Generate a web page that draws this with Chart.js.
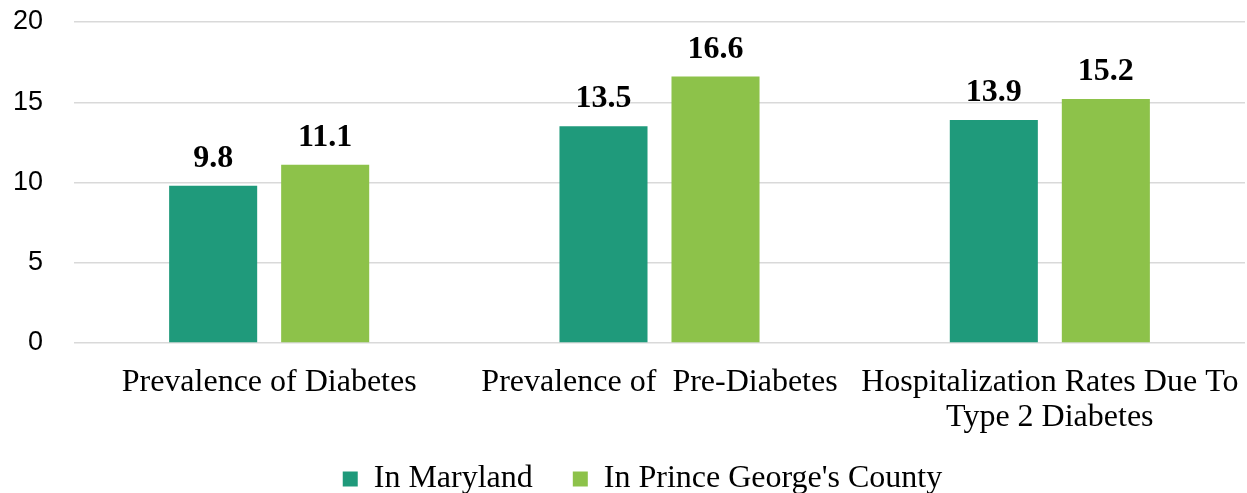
<!DOCTYPE html>
<html>
<head>
<meta charset="utf-8">
<script src="https://cdn.jsdelivr.net/npm/chart.js@4/dist/chart.umd.min.js"></script>
<style>
  html, body { margin: 0; padding: 0; background: #fff; }
  #wrap { width: 1247px; height: 493px; position: relative; }
</style>
</head>
<body>
<div id="wrap"><canvas id="c"></canvas></div>
<script>
const categories = [
  'Prevalence of Diabetes',
  ['Prevalence of  Pre-Diabetes'],
  ['Hospitalization Rates Due To', 'Type 2 Diabetes']
];
const seriesNames = ['In Maryland', "In Prince George's County"];
const marylandValues = [9.8, 13.5, 13.9];
const princeGeorgesValues = [11.1, 16.6, 15.2];
const yTicks = [0, 5, 10, 15, 20];

const serif = '"Liberation Serif", "Times New Roman", serif';
const sans = '"Liberation Sans", Arial, sans-serif';

const legendFont = 32;
const legendPad = 40;
const legendShift = 20;

// Writes each bar's value above it in bold
const valueLabels = {
  id: 'valueLabels',
  afterDatasetsDraw(chart) {
    const ctx = chart.ctx;
    ctx.save();
    ctx.font = 'bold 32px ' + serif;
    ctx.fillStyle = '#000';
    ctx.textAlign = 'center';
    ctx.textBaseline = 'alphabetic';
    chart.data.datasets.forEach((ds, i) => {
      chart.getDatasetMeta(i).data.forEach((bar, j) => {
        ctx.fillText(ds.data[j].toFixed(1), bar.x, bar.y - 19);
      });
    });
    ctx.restore();
  }
};

// Nudges the legend row slightly to the right of centre
const legendOffset = {
  id: 'legendOffset',
  afterLayout(chart) {
    if (chart.legend) {
      chart.legend.left += legendShift;
      chart.legend.right += legendShift;
    }
  }
};

new Chart(document.getElementById('c'), {
  type: 'bar',
  data: {
    labels: categories,
    datasets: [
      { label: seriesNames[0], data: marylandValues, backgroundColor: '#1F9A7B' },
      { label: seriesNames[1], data: princeGeorgesValues, backgroundColor: '#8DC24A' }
    ]
  },
  options: {
    responsive: true,
    maintainAspectRatio: false,
    animation: false,
    layout: { padding: { top: 22, right: 2, left: 0, bottom: -12 } },
    datasets: { bar: { categoryPercentage: 0.574, barPercentage: 0.786 } },
    plugins: {
      tooltip: { enabled: false },
      legend: {
        position: 'bottom',
        labels: {
          font: { family: serif, size: legendFont },
          color: '#000',
          boxWidth: 15,
          boxHeight: 15,
          padding: legendPad
        }
      }
    },
    scales: {
      x: {
        grid: { display: false, drawTicks: false },
        border: { display: false },
        afterFit(axis) {
          axis.height = 120 - legendPad;
          axis.paddingLeft = 0;
          axis.paddingRight = 0;
          // let the two-line category label run below the axis box
          axis._computeLabelArea = () => undefined;
        },
        ticks: {
          color: '#000',
          font: { family: serif, size: 32, lineHeight: 1.1 },
          maxRotation: 0,
          autoSkip: false,
          padding: 22
        }
      },
      y: {
        min: 0,
        max: 20,
        afterBuildTicks(axis) { axis.ticks = yTicks.map(v => ({ value: v })); },
        afterFit(axis) {
          axis.width = 74;
          axis.paddingTop = 0;
          axis.paddingBottom = 0;
        },
        grid: { color: '#D9D9D9', lineWidth: 1.5, drawTicks: false },
        border: { display: false },
        ticks: {
          color: '#000',
          font: { family: sans, size: 27 },
          padding: 31
        }
      }
    }
  },
  plugins: [valueLabels, legendOffset]
});
</script>
</body>
</html>
